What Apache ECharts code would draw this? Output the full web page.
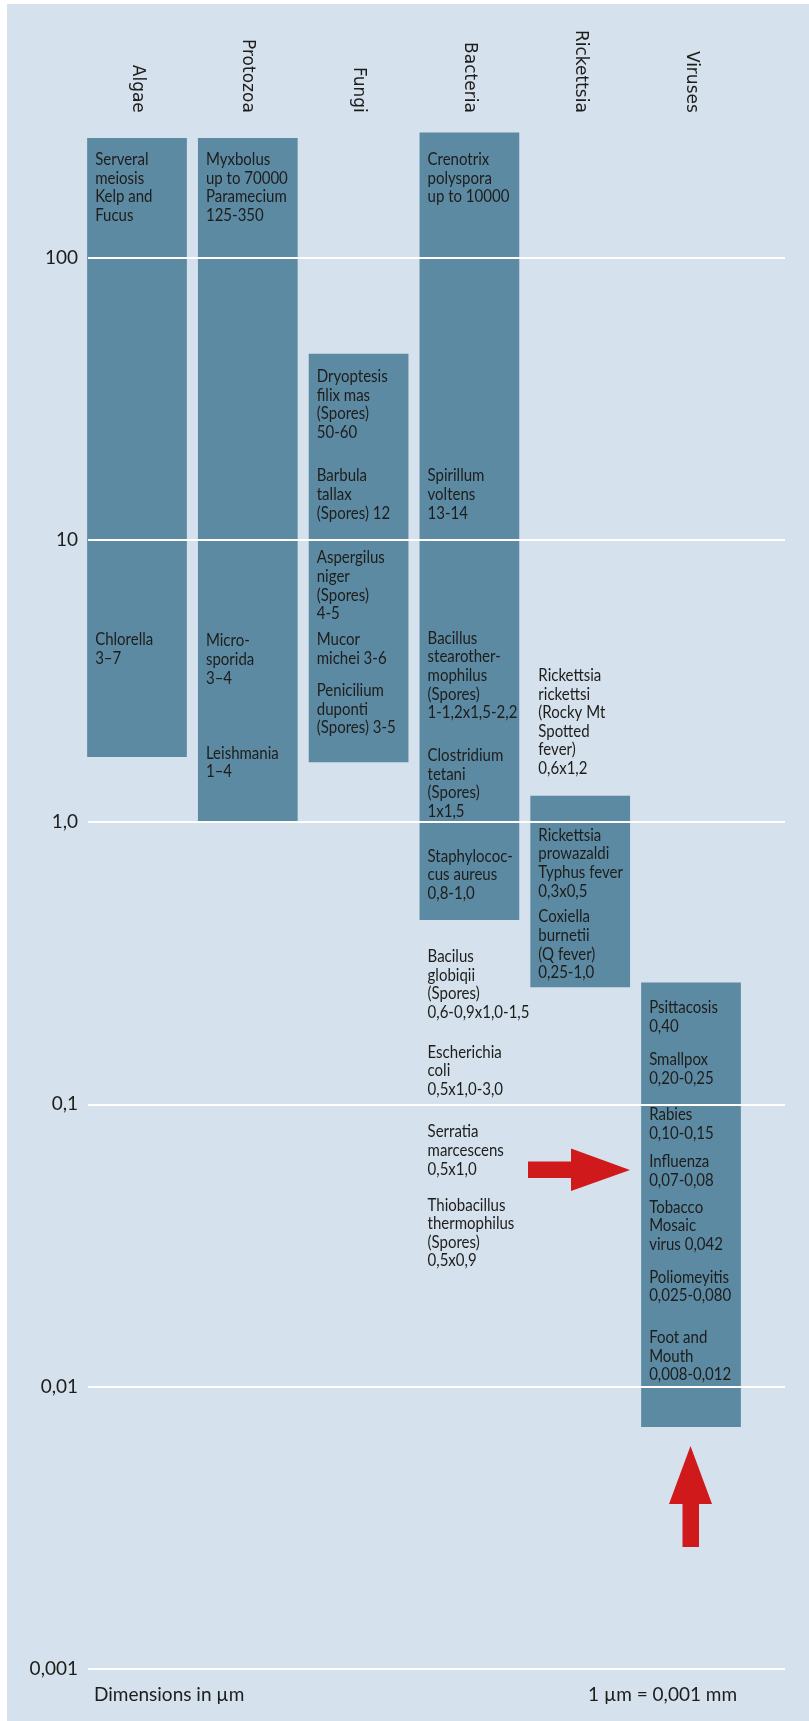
<!DOCTYPE html>
<html>
<head>
<meta charset="utf-8">
<title>Dimensions of microorganisms</title>
<script src="https://cdn.jsdelivr.net/npm/echarts@6/dist/echarts.min.js"></script>
<style>
  html, body { margin: 0; padding: 0; background: #ffffff; }
  #chart { width: 809px; height: 1721px; }
</style>
</head>
<body>
<div id="chart"></div>
<script>
// Groups of microorganisms along the top
const categories = ['Algae', 'Protozoa', 'Fungi', 'Bacteria', 'Rickettsia', 'Viruses'];

// Size span of each group, in µm (lower end, upper end)
const rangeLow  = [1.7, 1.0, 1.63, 0.45, 0.26, 0.0072];
const rangeHigh = [265, 265, 45.6, 277, 1.24, 0.27];

// Labels for the decades of the logarithmic size axis
const tickLabels = ['0,001', '0,01', '0,1', '1,0', '10', '100'];

// Named organisms: group, size level (µm) where the note starts, text
const notes = [
  ['Algae', 222, 'Serveral\nmeiosis\nKelp and\nFucus'],
  ['Algae', 4.43, 'Chlorella\n3\u20137'],
  ['Protozoa', 222, 'Myxbolus\nup to 70000\nParamecium\n125-350'],
  ['Protozoa', 4.375, 'Micro-\nsporida\n3\u20134'],
  ['Protozoa', 1.751, 'Leishmania\n1\u20134'],
  ['Fungi', 37.8, 'Dryoptesis\nfilix mas\n(Spores)\n50-60'],
  ['Fungi', 16.8, 'Barbula\ntallax\n(Spores) 12'],
  ['Fungi', 8.61, 'Aspergilus\nniger\n(Spores)\n4-5'],
  ['Fungi', 4.42, 'Mucor\nmichei 3-6'],
  ['Fungi', 2.915, 'Penicilium\nduponti\n(Spores) 3-5'],
  ['Bacteria', 222, 'Crenotrix\npolyspora\nup to 10000'],
  ['Bacteria', 16.8, 'Spirillum\nvoltens\n13-14'],
  ['Bacteria', 4.467, 'Bacillus\nstearother-\nmophilus\n(Spores)\n1-1,2x1,5-2,2'],
  ['Bacteria', 1.719, 'Clostridium\ntetani\n(Spores)\n1x1,5'],
  ['Bacteria', 0.756, 'Staphylococ-\ncus aureus\n0,8-1,0'],
  ['Bacteria', 0.333, 'Bacilus\nglobiqii\n(Spores)\n0,6-0,9x1,0-1,5'],
  ['Bacteria', 0.153, 'Escherichia\ncoli\n0,5x1,0-3,0'],
  ['Bacteria', 0.0797, 'Serratia\nmarcescens\n0,5x1,0'],
  ['Bacteria', 0.0439, 'Thiobacillus\nthermophilus\n(Spores)\n0,5x0,9'],
  ['Rickettsia', 3.3, 'Rickettsia\nrickettsi\n(Rocky Mt\nSpotted\nfever)\n0,6x1,2'],
  ['Rickettsia', 0.896, 'Rickettsia\nprowazaldi\nTyphus fever\n0,3x0,5'],
  ['Rickettsia', 0.461, 'Coxiella\nburnetii\n(Q fever)\n0,25-1,0'],
  ['Viruses', 0.22, 'Psittacosis\n0,40'],
  ['Viruses', 0.144, 'Smallpox\n0,20-0,25'],
  ['Viruses', 0.0918, 'Rabies\n0,10-0,15'],
  ['Viruses', 0.0624, 'Influenza\n0,07-0,08'],
  ['Viruses', 0.0431, 'Tobacco\nMosaic\nvirus 0,042'],
  ['Viruses', 0.0244, 'Poliomeyitis\n0,025-0,080'],
  ['Viruses', 0.0149, 'Foot and\nMouth\n0,008-0,012']
];

const PANEL = '#d5e1ec';
const BAR = '#5d8aa3';
const INK = '#1d1d1b';
const RED = '#d0191b';
// Notes are set in a narrow face: Lato squeezed horizontally
const NOTE_FONT = 'Lato, sans-serif';
const NOTE_SIZE = 16.5;
const NOTE_SQUEEZE = 0.91;
const NOTE_LINE = 18.6;

const chart = echarts.init(document.getElementById('chart'), null, { renderer: 'canvas' });

const barData = categories.map((c, i) => [i, rangeLow[i], rangeHigh[i]]);
const noteData = notes.map(n => [categories.indexOf(n[0]), n[1]]);

const yMin = 0.001, yMax = 300;

const option = {
  animation: false,
  backgroundColor: '#ffffff',
  graphic: {
    elements: [
      { type: 'rect', z: -100, silent: true,
        shape: { x: 7, y: 4, width: 802, height: 1717 },
        style: { fill: PANEL } },
      { type: 'polygon', z: 100, silent: true,
        shape: { points: [[528, 1161.5], [571, 1161.5], [571, 1148.5], [630, 1170], [571, 1191], [571, 1178], [528, 1178]] },
        style: { fill: RED } },
      { type: 'polygon', z: 100, silent: true,
        shape: { points: [[690.5, 1446], [712, 1504], [699, 1504], [699, 1547], [682.5, 1547], [682.5, 1504], [669, 1504]] },
        style: { fill: RED } },
      { type: 'text', z: 100, silent: true, x: 94, y: 1695,
        style: { text: 'Dimensions in \u00b5m', fill: INK, fontFamily: 'Lato', fontSize: 19, verticalAlign: 'middle', align: 'left' } },
      { type: 'text', z: 100, silent: true, x: 588, y: 1695,
        style: { text: '1 \u00b5m = 0,001 mm', fill: INK, fontFamily: 'Lato', fontSize: 19, verticalAlign: 'middle', align: 'left' } }
    ]
  },
  grid: [
    { left: 88, right: 24, top: 122.8, bottom: 52.1 },
    { left: 81.6, width: 664.8, top: 122.8, bottom: 52.1 }
  ],
  xAxis: [
    { gridIndex: 0, type: 'value', min: 0, max: 1, show: false },
    { gridIndex: 1, type: 'category', data: categories, position: 'top',
      axisLine: { show: false }, axisTick: { show: false }, splitLine: { show: false },
      axisLabel: { rotate: 90, margin: 10, fontFamily: 'DejaVu Sans', fontSize: 17, color: INK } }
  ],
  yAxis: [
    { gridIndex: 0, type: 'log', logBase: 10, min: yMin, max: yMax, z: 5,
      axisLine: { show: false }, axisTick: { show: false },
      axisLabel: {
        margin: 10, showMaxLabel: false, fontFamily: 'Lato', fontSize: 19, color: INK,
        formatter: v => {
          const e = Math.log10(v);
          const r = Math.round(e);
          return Math.abs(e - r) < 1e-6 ? tickLabels[r + 3] : '';
        }
      },
      splitLine: { show: true, showMaxLine: false, lineStyle: { color: '#ffffff', width: 2 } } },
    { gridIndex: 1, type: 'log', logBase: 10, min: yMin, max: yMax, show: false }
  ],
  series: [
    {
      name: 'Size range',
      type: 'custom',
      xAxisIndex: 1, yAxisIndex: 1,
      z: 2,
      encode: { x: 0, y: [1, 2] },
      data: barData,
      renderItem: (params, api) => {
        const x = api.value(0);
        const top = api.coord([x, api.value(2)]);
        const bottom = api.coord([x, api.value(1)]);
        const w = api.size([1, 1])[0] * 0.9;
        return {
          type: 'rect',
          shape: { x: top[0] - w / 2, y: top[1], width: w, height: bottom[1] - top[1] },
          style: { fill: BAR }
        };
      }
    },
    {
      name: 'Organisms',
      type: 'custom',
      xAxisIndex: 1, yAxisIndex: 1,
      z: 10,
      encode: { x: 0, y: 1 },
      data: noteData,
      renderItem: (params, api) => {
        const x = api.value(0);
        const p = api.coord([x, api.value(1)]);
        const w = api.size([1, 1])[0] * 0.9;
        return {
          type: 'text',
          x: p[0] - w / 2 + 8,
          y: p[1] - NOTE_LINE / 2,
          scaleX: NOTE_SQUEEZE,
          style: {
            text: notes[params.dataIndex][2],
            fill: INK,
            fontFamily: NOTE_FONT,
            fontSize: NOTE_SIZE,
            lineHeight: NOTE_LINE,
            align: 'left',
            verticalAlign: 'top'
          }
        };
      }
    }
  ]
};

chart.setOption(option);
</script>
</body>
</html>
